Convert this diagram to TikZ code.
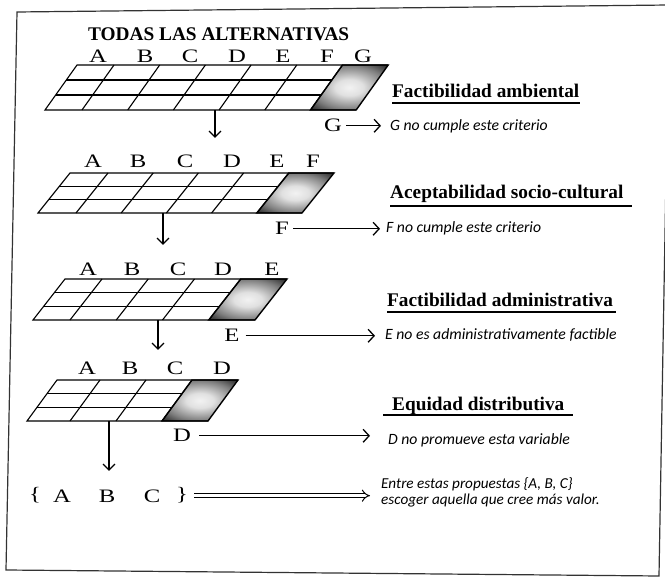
\documentclass[tikz,border=0pt]{standalone}
\usepackage{fontspec}
\setmainfont{Liberation Serif}
\newfontfamily\critfont{Carlito}
\newfontfamily\lblfont{Liberation Serif}[FakeStretch=1.3]
\usetikzlibrary{arrows.meta}
\pgfdeclareradialshading{cellshade}{\pgfpoint{0bp}{0bp}}{color(0bp)=(black!5); color(9bp)=(black!12); color(24bp)=(black!50); color(36bp)=(black!88); color(50bp)=(black)}
\newcommand\altgrid[7]{%
  \pgfmathsetmacro\gxr{#1+#5+(#7-2)*#6}%
  \pgfmathsetmacro\gxe{\gxr+#6}%
  \pgfmathsetmacro\gya{#2+(#3-#2)/3}%
  \pgfmathsetmacro\gyb{#2+2*(#3-#2)/3}%
  \pgfmathsetmacro\gxlb{#1+(#4)}%
  \pgfmathsetmacro\gxeb{\gxe+(#4)}%
  \pgfmathsetmacro\gxrb{\gxr+(#4)}%
  \pgfmathsetmacro\gla{#1+(#4)/3}%
  \pgfmathsetmacro\glb{#1+2*(#4)/3}%
  \pgfmathsetmacro\gra{\gxr+(#4)/3}%
  \pgfmathsetmacro\grb{\gxr+2*(#4)/3}%
  \pgfmathtruncatemacro\gn{#7-2}%
  \shade[shading=cellshade] (\gxr,#2) -- (\gxe,#2) -- (\gxeb,#3) -- (\gxrb,#3) -- cycle;
  \draw[gridline] (\gxe,#2) -- (#1,#2) -- (\gxlb,#3) -- (\gxeb,#3);
  \draw[gridline] (\gla,\gya) -- (\gra,\gya);
  \draw[gridline] (\glb,\gyb) -- (\grb,\gyb);
  \foreach \j in {0,...,\gn} {%
    \pgfmathsetmacro\gx{#1+#5+\j*#6}%
    \pgfmathsetmacro\gxb{\gx+(#4)}%
    \draw[gridline] (\gx,#2) -- (\gxb,#3);
  }
  \draw[cellline] (\gxr,#2) -- (\gxe,#2) -- (\gxeb,#3) -- (\gxrb,#3) -- cycle;
}
\begin{document}
\begin{tikzpicture}[x=1pt,y=-1pt,
  frame/.style={draw=black!80, line width=1.2pt},
  gridline/.style={draw=black, line width=1.1pt},
  cellline/.style={draw=black, line width=1.4pt, line join=miter},
  title/.style={font=\bfseries\fontsize{19.3}{21}\selectfont, inner sep=0pt},
  lbl/.style={font=\lblfont\fontsize{19}{21}\selectfont, inner sep=0pt, anchor=base},
  head/.style={font=\bfseries\fontsize{19.3}{21}\selectfont, inner sep=0pt, anchor=base west},
  crit/.style={font=\critfont\itshape\fontsize{15.7}{17}\selectfont, inner sep=0pt, anchor=base west},
  uline/.style={line width=1.5pt},
  dn/.style={line width=1.3pt, -{Straight Barb[length=6pt,width=12pt,line width=1.3pt]}},
  el/.style={line width=1.3pt, -{Straight Barb[length=6pt,width=13pt,line width=1.3pt]}},
  dbl/.style={double, double distance=3.2pt, line width=1pt, -{Implies[length=7pt,width=13pt]}}
]
\useasboundingbox (0,0) rectangle (665,577);
\draw[frame] (17,12) -- (669,5) -- (659,576) -- (6,570) -- cycle;

\node[title, anchor=base west] (title) at (88,41) {TODAS LAS ALTERNATIVAS};

% grid 1
\altgrid{77}{65}{110}{-32}{37}{45.7}{7}
\node[lbl] (g1A) at (98,63) {A};
\node[lbl] (g1B) at (145,63) {B};
\node[lbl] (g1C) at (190,63) {C};
\node[lbl] (g1D) at (237,63) {D};
\node[lbl] (g1E) at (283,63) {E};
\node[lbl] (g1F) at (327,63) {F};
\node[lbl] (g1G) at (363,63) {G};
\coordinate (d1s) at (215,110);
\coordinate (d1e) at (215,138);
\draw[dn] (d1s) -- (d1e);

\node[head] (hFA) at (392,98) {Factibilidad ambiental};
\draw[uline] ([yshift=-5pt]hFA.base west) -- ([yshift=-5pt]hFA.base east);
\node[lbl] (xG) at (333,132) {G};
\node[crit] (tG) at (390,131) {G no cumple este criterio};
\draw[el] ([xshift=4pt]xG.east) -- ([xshift=-9pt]tG.west |- xG.east);

% grid 2
\altgrid{70}{173}{213}{-32}{38}{45.2}{6}
\node[lbl] (g2A) at (93,168) {A};
\node[lbl] (g2B) at (138,168) {B};
\node[lbl] (g2C) at (185,168) {C};
\node[lbl] (g2D) at (232,168) {D};
\node[lbl] (g2E) at (277,168) {E};
\node[lbl] (g2F) at (313,168) {F};
\coordinate (d2s) at (163,213);
\coordinate (d2e) at (163,245);
\draw[dn] (d2s) -- (d2e);

\node[head] (hAS) at (390,199) {Aceptabilidad socio-cultural};
\draw[uline] ([yshift=-7pt]hAS.base west) -- ([xshift=8pt,yshift=-7pt]hAS.base east);
\node[lbl] (xF) at (282,235) {F};
\node[crit] (tF) at (386,233) {F no cumple este criterio};
\draw[el] ([xshift=4pt]xF.east) -- ([xshift=-6pt]tF.west |- xF.east);

% grid 3
\altgrid{65}{279}{320}{-32}{37}{46.25}{5}
\node[lbl] (g3A) at (88,276) {A};
\node[lbl] (g3B) at (132,276) {B};
\node[lbl] (g3C) at (178,276) {C};
\node[lbl] (g3D) at (223,276) {D};
\node[lbl] (g3E) at (272,276) {E};
\coordinate (d3s) at (158,320);
\coordinate (d3e) at (158,350);
\draw[dn] (d3s) -- (d3e);

\node[head] (hFAd) at (387,307) {Factibilidad administrativa};
\draw[uline] ([yshift=-5pt]hFAd.base west) -- ([xshift=3pt,yshift=-5pt]hFAd.base east);
\node[lbl] (xE) at (232,342) {E};
\node[crit] (tE) at (385,340) {E no es administrativamente factible};
\draw[el] ([xshift=6pt]xE.east) -- ([xshift=-10pt]tE.west |- xE.east);

% grid 4
\altgrid{57}{380}{421}{-30}{43}{46}{4}
\node[lbl] (g4A) at (87,375) {A};
\node[lbl] (g4B) at (130,375) {B};
\node[lbl] (g4C) at (175,375) {C};
\node[lbl] (g4D) at (222,375) {D};
\coordinate (d4s) at (109,421);
\coordinate (d4e) at (109,471);
\draw[dn] (d4s) -- (d4e);

\node[head] (hEq) at (392,411) {Equidad distributiva};
\draw[uline] ([xshift=-9pt,yshift=-4pt]hEq.base west) -- ([xshift=8pt,yshift=-4pt]hEq.base east);
\node[lbl] (xD) at (182,442) {D};
\node[crit] (tD) at (388,445) {D no promueve esta variable};
\draw[el] ([xshift=8pt]xD.east) -- ([xshift=-18pt]tD.west |- xD.east);

% final
\node[lbl] (fbl) at (35,501) {\{};
\node[lbl] (fA) at (62,503) {A};
\node[lbl] (fB) at (107,503) {B};
\node[lbl] (fC) at (152,503) {C};
\node[lbl] (fbr) at (182,501) {\}};
\node[crit, font=\critfont\itshape\fontsize{15.2}{17}\selectfont] (tEnt) at (381,489) {Entre estas propuestas \{A, B, C\}};
\node[crit, font=\critfont\itshape\fontsize{15.2}{17}\selectfont] (tEsc) at (381,505) {escoger aquella que cree más valor.};
\draw[dbl] ([xshift=6pt]fbr.east) -- ([xshift=-11pt]tEnt.west |- fbr.east);
\end{tikzpicture}
\end{document}
